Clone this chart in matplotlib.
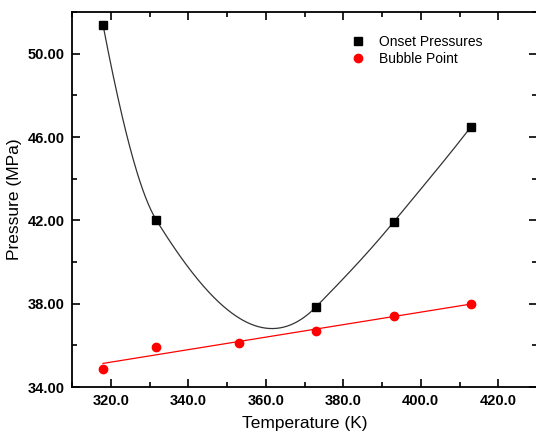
import numpy as np
import matplotlib
matplotlib.use("Agg")
import matplotlib.pyplot as plt
from matplotlib.ticker import MultipleLocator, FormatStrFormatter

plt.rcParams['font.family'] = ['Liberation Sans', 'DejaVu Sans']

onset_T = [318.0, 331.8, 373.0, 393.0, 413.0]
onset_P = [51.38, 42.0, 37.85, 41.92, 46.5]
bubble_T = [318.0, 331.8, 353.0, 373.0, 393.0, 413.0]
bubble_P = [34.88, 35.92, 36.12, 36.70, 37.42, 37.97]

x_ticks = [320, 340, 360, 380, 400, 420]
y_ticks = [34, 38, 42, 46, 50]


def akima(x, y, xs):
    x = np.asarray(x, float); y = np.asarray(y, float)
    n = len(x)
    m = np.diff(y) / np.diff(x)
    mm = np.empty(n + 3)
    mm[2:n + 1] = m
    mm[1] = 2 * mm[2] - mm[3]
    mm[0] = 2 * mm[1] - mm[2]
    mm[n + 1] = 2 * mm[n] - mm[n - 1]
    mm[n + 2] = 2 * mm[n + 1] - mm[n]
    t = np.empty(n)
    for i in range(n):
        w1 = abs(mm[i + 3] - mm[i + 2])
        w2 = abs(mm[i + 1] - mm[i])
        if w1 + w2 == 0:
            t[i] = 0.5 * (mm[i + 1] + mm[i + 2])
        else:
            t[i] = (w1 * mm[i + 1] + w2 * mm[i + 2]) / (w1 + w2)
    idx = np.clip(np.searchsorted(x, xs) - 1, 0, n - 2)
    h = x[idx + 1] - x[idx]
    s = (xs - x[idx]) / h
    h00 = 2 * s**3 - 3 * s**2 + 1
    h10 = s**3 - 2 * s**2 + s
    h01 = -2 * s**3 + 3 * s**2
    h11 = s**3 - s**2
    return h00 * y[idx] + h10 * h * t[idx] + h01 * y[idx + 1] + h11 * h * t[idx + 1]


fig = plt.figure(figsize=(5.36, 4.34), dpi=100)
ax = fig.add_axes([72 / 536, 47 / 434, 465 / 536, 375 / 434])

xs = np.linspace(min(onset_T), max(onset_T), 400)
ax.plot(xs, akima(onset_T, onset_P, xs), color='#333333', lw=0.9, zorder=2)

coef = np.polyfit(bubble_T, bubble_P, 1)
xl = np.array([min(bubble_T), max(bubble_T)])
ax.plot(xl, np.polyval(coef, xl), color='red', lw=0.9, zorder=2)

ax.plot(onset_T, onset_P, 's', color='black', ms=5.2, ls='none', label='Onset Pressures', zorder=3)
ax.plot(bubble_T, bubble_P, 'o', color='red', ms=6, ls='none', label='Bubble Point', zorder=3)

ax.set_xlim(310, 430)
ax.set_ylim(34, 52)
ax.set_xticks(x_ticks)
ax.set_yticks(y_ticks)
ax.xaxis.set_minor_locator(MultipleLocator(10))
ax.yaxis.set_minor_locator(MultipleLocator(2))
ax.xaxis.set_major_formatter(FormatStrFormatter('%.1f'))
ax.yaxis.set_major_formatter(FormatStrFormatter('%.2f'))
ax.tick_params(which='both', direction='in', top=True, right=True, width=1.2)
ax.tick_params(which='major', length=6, labelsize=10.5, pad=5)
ax.tick_params(which='minor', length=3.5)
for lab in ax.get_xticklabels() + ax.get_yticklabels():
    lab.set_fontweight('bold')
for s in ax.spines.values():
    s.set_linewidth(1.3)

ax.set_xlabel('Temperature (K)', fontsize=12.5, labelpad=6)
ax.set_ylabel('Pressure (MPa)', fontsize=12.5, labelpad=4)

ax.legend(loc='upper left', bbox_to_anchor=(0.600, 0.940), frameon=False, fontsize=10,
          handletextpad=1.0, borderaxespad=0, borderpad=0, handlelength=1.0,
          labelspacing=0.22, markerscale=1.0)

fig.savefig('out.png', dpi=100)
